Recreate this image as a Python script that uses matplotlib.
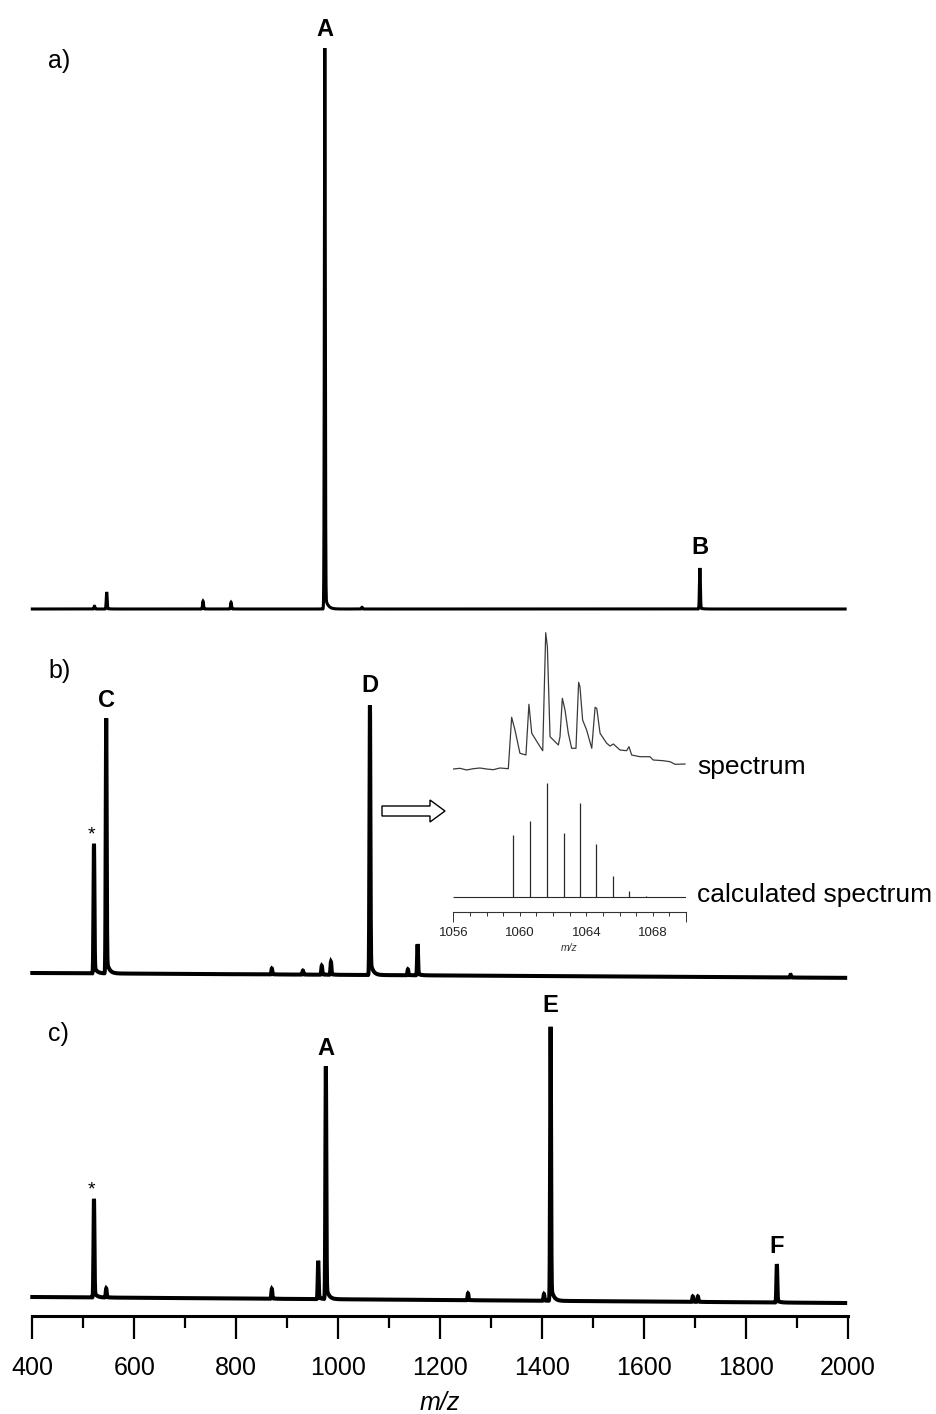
import numpy as np
import matplotlib
matplotlib.use('Agg')
import matplotlib.pyplot as plt
from matplotlib.patches import Polygon
from matplotlib.ticker import MultipleLocator, FixedLocator

plt.rcParams['font.family'] = ['Liberation Sans', 'DejaVu Sans']

# ---- data (m/z, relative intensity) ----
a_mz = [522, 546, 735, 790, 974, 1047, 1710]
a_int = [0.5, 3.0, 1.4, 1.2, 100, 0.3, 7.3]
a_labels = {'A': 974, 'B': 1710}

b_mz = [521, 545, 870, 931, 968, 986, 1062.5, 1137, 1156, 1888]
b_int = [48, 94.5, 2.2, 1.5, 3.3, 4.8, 100, 2.2, 11.5, 1.0]
b_drift = [0.0, -1.8]          # baseline at m/z 400 and 2000
b_labels = {'*': 521, 'C': 545, 'D': 1062.5}

c_mz = [521, 545, 870, 961, 976, 1255, 1404, 1417, 1696, 1706, 1861]
c_int = [36, 3.3, 3.6, 14, 85, 2.5, 2.5, 100, 2.0, 2.0, 14]
c_drift = [0.0, -2.2]
c_labels = {'*': 521, 'A': 976, 'E': 1417, 'F': 1861}

# inset: measured isotope pattern (trace) and calculated sticks
spec_mz = [1056.0, 1056.4, 1056.8, 1057.2, 1057.6, 1058.0, 1058.4, 1058.81, 1059.31, 1059.51,
           1059.71, 1060.01, 1060.37, 1060.55, 1060.72, 1061.22, 1061.38, 1061.56, 1061.66, 1061.82,
           1062.32, 1062.42, 1062.56, 1062.72, 1062.92, 1063.12, 1063.38, 1063.54, 1063.62, 1063.78,
           1064.02, 1064.33, 1064.53, 1064.63, 1064.83, 1065.23, 1065.43, 1065.63, 1066.03, 1066.43,
           1066.57, 1066.73, 1067.23, 1067.83, 1068.03, 1068.63, 1069.04, 1069.34, 1069.94]
spec_int = [0, 0.7, -1, 0.3, 1, 0, -0.7, 1, 0.3, 51.7,
            39, 15.7, 14, 64.7, 35.7, 22.3, 18.3, 136.3, 122.3, 32.3,
            24, 32.3, 70.7, 59, 35.7, 20.7, 20.7, 86.7, 82.3, 49,
            39, 20.7, 61.7, 60.7, 35.7, 25.7, 23, 25, 19, 18.3,
            22.3, 14, 12.3, 12.3, 9, 8.3, 7.3, 4.7, 5]
calc_mz = [1059.6, 1060.6, 1061.65, 1062.65, 1063.65, 1064.6, 1065.6, 1066.6, 1067.6]
calc_int = [54.4, 66.7, 100, 56.1, 82.5, 46.5, 18.4, 5.3, 0.9]
inset_ticks = [1056, 1060, 1064, 1068]

W, H = 936, 1414
fig = plt.figure(figsize=(W / 100, H / 100), dpi=100)
fig.patch.set_facecolor('white')


def px_axes(x0, y0, x1, y1):
    ax = fig.add_axes([x0 / W, 1 - y1 / H, (x1 - x0) / W, (y1 - y0) / H])
    ax.set_facecolor('none')
    return ax


def spectrum(mz, peaks, ints, drift, tail_amp, tau, sig=0.9):
    y = np.interp(mz, [400, 2000], drift)
    for m, h in zip(peaks, ints):
        g = np.exp(-0.5 * ((mz - m) / sig) ** 2)
        d = np.clip(mz - m, 0, None)
        t = np.where(mz > m, np.exp(-d / tau) * (1 - np.exp(-d / 1.0)), 0.0)
        y = y + h * (g + tail_amp * t)
    return y


mz = np.arange(400, 1995.01, 0.2)
X0, X1 = 32.3, 847.7

panels = [
    # top, bottom, baseline px, px per unit, peaks, ints, drift, labels, tail, lw, letter
    (15, 625, 609, 5.61, a_mz, a_int, [0.0, 0.0], a_labels, 0.025, 2.2, 'a)'),
    (640, 990, 973, 2.70, b_mz, b_int, b_drift, b_labels, 0.06, 2.9, 'b)'),
    (1005, 1316, 1297, 2.74, c_mz, c_int, c_drift, c_labels, 0.06, 2.9, 'c)'),
]

label_off = {'A': 11.5, 'B': 14.5, 'C': 11.5, 'D': 13.5, 'E': 14.5, 'F': 11.5}
axes = []
for top, bot, base, sc, pk, it, dr, labs, tail, lw, letter in panels:
    ax = px_axes(X0, top, X1, bot)
    ax.set_xlim(400, 2000)
    ax.set_ylim(-(bot - base) / sc, (base - top) / sc)
    y = spectrum(mz, pk, it, dr, tail, 5.0)
    ax.plot(mz, y, color='black', lw=lw, clip_on=False, solid_joinstyle='miter')
    for s in ax.spines.values():
        s.set_visible(False)
    ax.set_xticks([]); ax.set_yticks([])
    for lab, m in labs.items():
        h = it[pk.index(m)] + np.interp(m, [400, 2000], dr)
        if lab == '*':
            ax.annotate('*', xy=(m, h), xytext=(-2, 4 * 0.72), textcoords='offset points',
                        ha='center', va='baseline', fontsize=14)
        else:
            ax.annotate(lab, xy=(m, h), xytext=(0, label_off[lab] * 0.72), textcoords='offset points',
                        ha='center', va='baseline', fontsize=17, fontweight='bold')
    axes.append(ax)

# panel letters
for (top, bot, base, *_rest), yb in zip(panels, [68, 678, 1041]):
    fig.text(48 / W, 1 - yb / H, _rest[-1], fontsize=18, ha='left', va='baseline')

# bottom axis on panel c
axc = axes[2]
axc.spines['bottom'].set_visible(True)
axc.spines['bottom'].set_linewidth(2.2)
axc.xaxis.set_major_locator(MultipleLocator(200))
axc.xaxis.set_minor_locator(MultipleLocator(100))
axc.tick_params(axis='x', which='major', direction='out', length=16.5, width=1.6,
                labelsize=18, pad=12)
axc.tick_params(axis='x', which='minor', direction='out', length=8.6, width=1.6)
axc.set_xlabel('m/z', fontsize=18, style='italic')
axc.xaxis.set_label_coords(0.5, -(1403 - 1316) / (1316 - 1005))
axc.xaxis.label.set_va('center')

# ---- inset ----
IX0, IX1 = 453.3, 686.0
sp = px_axes(IX0, 620, IX1, 775)
sp.set_xlim(1056, 1070)
sp.set_ylim(-6, 149)
sp.plot(spec_mz, spec_int, color='#3a3a3a', lw=0.9)
sp.axis('off')

ca = px_axes(IX0, 775, IX1, 911.7)
ca.set_xlim(1056, 1070)
ylo = -(911.7 - 896.7) / 1.14
ca.set_ylim(ylo, (896.7 - 775) / 1.14)
ca.vlines(calc_mz, 0, calc_int, color='#2a2a2a', lw=0.9)
ca.hlines(0, 1056, 1070, color='#2a2a2a', lw=0.8)
for s in ['top', 'left', 'right']:
    ca.spines[s].set_visible(False)
ca.spines['bottom'].set_color('#333333')
ca.spines['bottom'].set_linewidth(0.8)
ca.set_yticks([])
ca.xaxis.set_major_locator(FixedLocator(inset_ticks))
ca.xaxis.set_minor_locator(MultipleLocator(1))
ca.tick_params(axis='x', which='both', direction='out', length=3, width=0.7,
               color='#333333', labelsize=9.5, labelcolor='#222222', pad=8)
ca.vlines([1056, 1070], ylo, ylo - 10 / 1.14, color='#333333', lw=0.7, clip_on=False)
ca.set_xlabel('m/z', fontsize=7.5, style='italic', color='#333333')
ca.xaxis.set_label_coords(0.5, -(948 - 911.7) / (911.7 - 775))
ca.xaxis.label.set_va('center')

fig.text(697 / W, 1 - 767 / H, 'spectrum', fontsize=19, ha='left', va='center')
fig.text(697 / W, 1 - 895 / H, 'calculated spectrum', fontsize=19, ha='left', va='center')

# hollow arrow pointing to the inset
arrow_px = [(382, 806), (430, 806), (430, 800), (445, 811), (430, 822), (430, 816), (382, 816)]
fig.patches.append(Polygon([(x / W, 1 - y / H) for x, y in arrow_px], closed=True,
                           transform=fig.transFigure, facecolor='white', edgecolor='black', lw=1.0))

fig.savefig('out.png', dpi=100, facecolor='white')
